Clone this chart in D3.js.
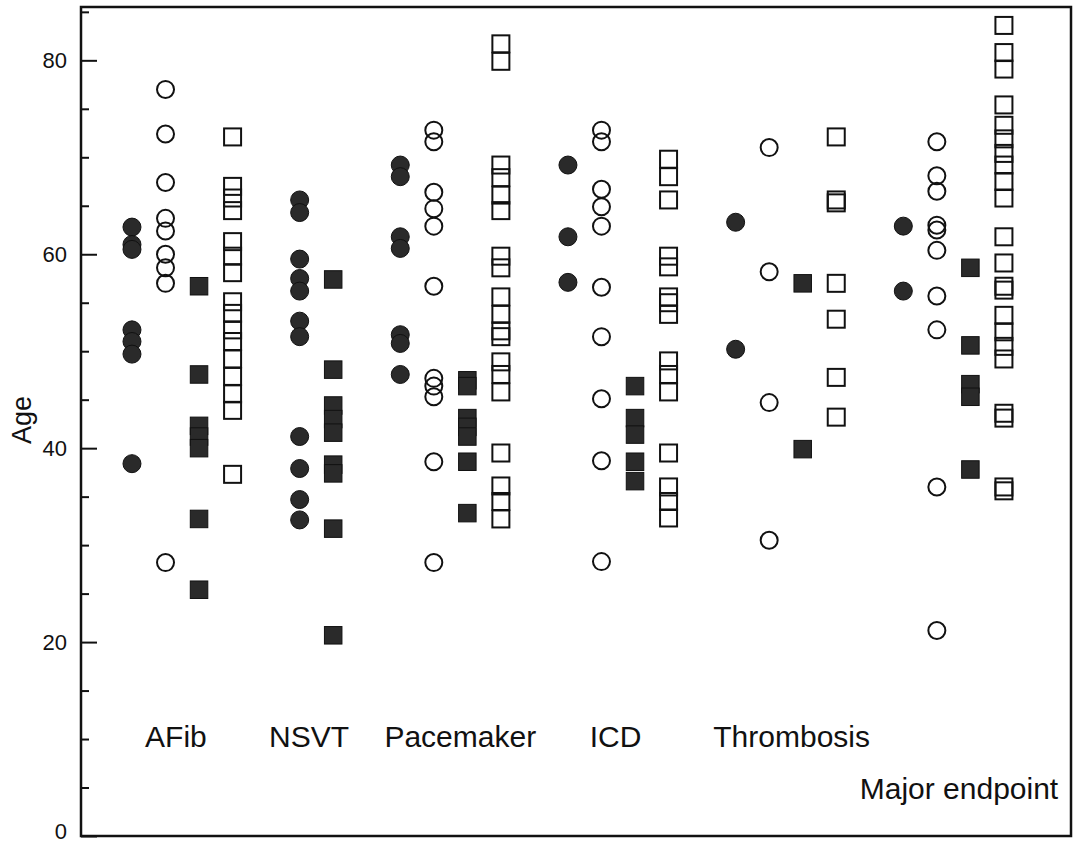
<html>
<head>
    <script src="https://d3js.org/d3.v7.min.js"></script>
    <style>
        body {
            margin: 0;
            background-color: #fff;
            font-family: "Liberation Sans", Arial, Helvetica, sans-serif;
        }
        .axis text {
            font-size: 22px;
            fill: #111;
        }
        .axis line {
            stroke: #111;
            stroke-width: 2;
        }
        .axis .domain {
            stroke: none;
        }
        .catlabel {
            font-size: 30px;
            fill: #111;
        }
    </style>
</head>
<body>
    <svg id="chart" width="1075" height="846"></svg>
    <script>

    // categories on the x axis
    const categories = ["AFib", "NSVT", "Pacemaker", "ICD", "Thrombosis", "Major endpoint"];

    // ages per category, one array per marker type (empty = column not drawn)
    const filledCircles = [
        [62.8, 61.0, 60.5, 52.2, 51.0, 49.7, 38.4],
        [65.6, 64.3, 59.5, 57.5, 56.2, 53.1, 51.5, 41.2, 37.9, 34.7, 32.6],
        [69.2, 68.0, 61.8, 60.6, 51.7, 50.8, 47.6],
        [69.2, 61.8, 57.1],
        [63.3, 50.2],
        [62.9, 56.2]
    ];
    const openCircles = [
        [77.0, 72.4, 67.4, 63.7, 62.4, 60.0, 58.6, 57.0, 28.2],
        [],
        [72.8, 71.6, 66.4, 64.7, 62.9, 56.7, 47.2, 46.4, 45.3, 38.6, 28.2],
        [72.8, 71.6, 66.7, 64.9, 62.9, 56.6, 51.5, 45.1, 38.7, 28.3],
        [71.0, 58.2, 44.7, 30.5],
        [71.6, 68.1, 66.5, 63.0, 62.5, 60.4, 55.7, 52.2, 36.0, 21.2]
    ];
    const filledSquares = [
        [56.7, 47.6, 42.3, 41.2, 40.0, 32.7, 25.4],
        [57.4, 48.1, 44.4, 43.0, 41.6, 38.3, 37.4, 31.7, 20.7],
        [47.0, 46.4, 43.1, 42.2, 41.2, 38.6, 33.3],
        [46.4, 43.1, 41.4, 38.6, 36.6],
        [57.0, 39.9],
        [58.6, 50.6, 46.6, 45.3, 37.8]
    ];
    const openSquares = [
        [72.1, 67.0, 65.8, 64.5, 61.3, 59.8, 58.1, 55.1, 53.9, 52.2, 51.0, 49.2, 47.4, 45.6, 43.9, 37.3],
        [],
        [81.7, 79.9, 69.2, 67.9, 66.1, 64.5, 59.8, 58.6, 55.6, 53.8, 52.1, 51.5, 48.9, 47.6, 45.8, 39.5, 36.1, 34.5, 32.7],
        [69.8, 68.0, 65.6, 59.8, 58.7, 55.6, 55.0, 53.8, 49.0, 47.6, 45.8, 39.5, 36.0, 34.5, 32.8],
        [72.1, 65.6, 65.3, 57.0, 53.3, 47.3, 43.2],
        [83.6, 80.8, 79.1, 75.4, 73.3, 71.9, 70.4, 69.2, 67.5, 65.8, 61.8, 59.1, 56.7, 56.3, 53.7, 52.0, 50.5, 49.2, 43.6, 43.1, 36.0, 35.6]
    ];

    // y axis ticks
    const majorTicks = [0, 20, 40, 60, 80];
    const minorTicks = [5, 10, 15, 25, 30, 35, 45, 50, 55, 65, 70, 75, 85];

    let svg = d3.select("svg#chart");

    const frame = { left: 81, right: 1071, top: 7, bottom: 836 };

    // one slot per drawn column, one empty slot between categories
    const seriesList = [
        { values: filledCircles, shape: "circle", filled: true },
        { values: openCircles, shape: "circle", filled: false },
        { values: filledSquares, shape: "square", filled: true },
        { values: openSquares, shape: "square", filled: false }
    ];
    let points = [];
    let slot = 0;
    categories.forEach((cat, ci) => {
        seriesList.forEach(s => {
            if (s.values[ci].length === 0) return;
            s.values[ci].forEach(v => points.push({ cat: cat, slot: slot, age: v, shape: s.shape, filled: s.filled }));
            slot++;
        });
        slot++;
    });

    const xScale = d3.scaleLinear().domain([-1.52, 28]).range([frame.left, frame.right]);
    const yScale = d3.scaleLinear().domain([0, 85.5]).range([frame.bottom, frame.top]);

    // minor ticks
    svg.append("g")
        .attr("class", "axis")
        .attr("transform", `translate(${frame.left},0)`)
        .call(d3.axisLeft(yScale).tickValues(minorTicks).tickSize(-8).tickFormat(""));

    // major ticks + labels
    let majorG = svg.append("g")
        .attr("class", "axis")
        .attr("transform", `translate(${frame.left},0)`)
        .call(d3.axisLeft(yScale).tickValues(majorTicks).tickSize(-16).tickPadding(14));

    // the 0 label sits on the bottom edge, lift it a little so it stays inside
    majorG.selectAll(".tick text").filter(d => d === 0).attr("dy", "0.12em");

    // frame
    svg.append("rect")
        .attr("x", frame.left)
        .attr("y", frame.top)
        .attr("width", frame.right - frame.left)
        .attr("height", frame.bottom - frame.top)
        .attr("fill", "none")
        .attr("stroke", "#111")
        .attr("stroke-width", 2.5);

    // y label
    svg.append("text")
        .attr("transform", "translate(31,420) rotate(-90)")
        .attr("text-anchor", "middle")
        .style("font-size", "27px")
        .style("fill", "#111")
        .text("Age");

    let marks = svg.append("g").attr("id", "points");

    marks.selectAll("circle.pt")
        .data(points.filter(d => d.shape === "circle"))
        .join("circle")
        .attr("class", "pt")
        .attr("cx", d => xScale(d.slot))
        .attr("cy", d => yScale(d.age))
        .attr("r", d => d.filled ? 9 : 8.5)
        .attr("fill", d => d.filled ? "#2a2a2a" : "none")
        .attr("stroke", "#111")
        .attr("stroke-width", d => d.filled ? 1 : 2);

    marks.selectAll("rect.pt")
        .data(points.filter(d => d.shape === "square"))
        .join("rect")
        .attr("class", "pt")
        .attr("x", d => xScale(d.slot) - (d.filled ? 8.75 : 8.5))
        .attr("y", d => yScale(d.age) - (d.filled ? 8.75 : 8.5))
        .attr("width", d => d.filled ? 17.5 : 17)
        .attr("height", d => d.filled ? 17.5 : 17)
        .attr("fill", d => d.filled ? "#2a2a2a" : "none")
        .attr("stroke", "#111")
        .attr("stroke-width", d => d.filled ? 1 : 2);

    // category labels (x in slot units, y in age units)
    const labelPos = [
        { x: 1.31, y: 9.2 }, { x: 5.28, y: 9.2 }, { x: 9.79, y: 9.2 },
        { x: 14.42, y: 9.2 }, { x: 19.67, y: 9.2 }, { x: 24.66, y: 3.8 }
    ];
    svg.selectAll("text.catlabel")
        .data(categories)
        .join("text")
        .attr("class", "catlabel")
        .attr("text-anchor", "middle")
        .attr("x", (d, i) => xScale(labelPos[i].x))
        .attr("y", (d, i) => yScale(labelPos[i].y))
        .text(d => d);

    </script>
</body>
</html>
